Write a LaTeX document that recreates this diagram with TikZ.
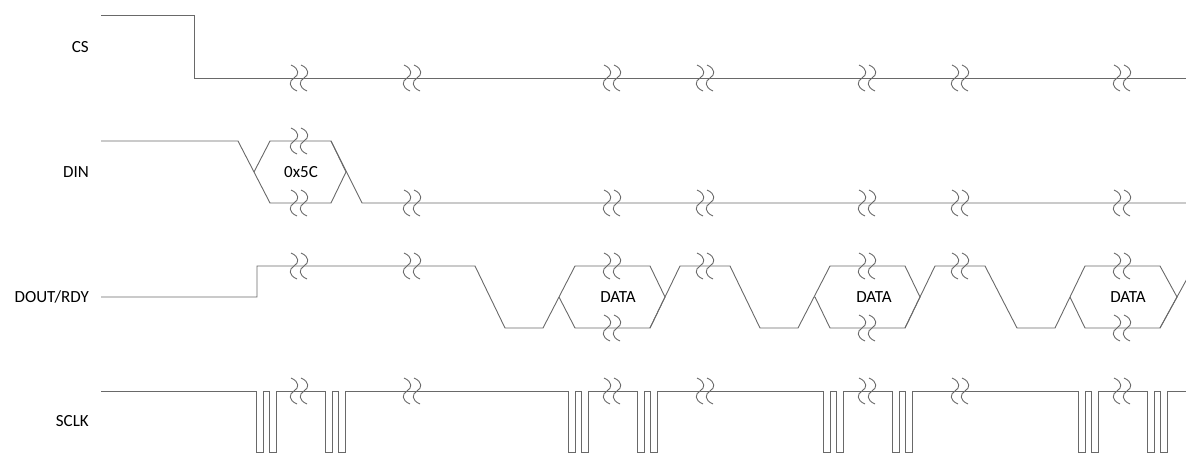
\documentclass[tikz,border=0pt]{standalone}
\usepackage{fontspec}
\setmainfont{Carlito}
\definecolor{wiregray}{RGB}{105,105,105}
\tikzset{
  wire/.style={draw=wiregray, line width=0.9pt},
  siglabel/.style={anchor=east, inner sep=0pt, font=\fontsize{17}{19}\selectfont},
  buslabel/.style={inner sep=0pt, font=\fontsize{17}{19}\selectfont}
}
% two squiggles marking a break in a line
\newcommand{\breakmark}[2]{%
  \foreach \dx in {-5,5} {
    \draw[wire] ({#1+\dx-3},{#2-13}) .. controls ({#1+\dx+6},{#2-9}) and ({#1+\dx+5},{#2-3}) .. ({#1+\dx},{#2})
                .. controls ({#1+\dx-5},{#2+3}) and ({#1+\dx-6},{#2+9}) .. ({#1+\dx+3},{#2+13});
  }}
\begin{document}
\begin{tikzpicture}[x=1pt, y=-1pt]
  \useasboundingbox (0,0) rectangle (1186,454);
  \clip (0,0) rectangle (1186,454);

  \node[siglabel] (cs) at (89,47) {CS};
  \node[siglabel] (din) at (89,172) {DIN};
  \node[siglabel] (dout) at (89,297) {DOUT/RDY};
  \node[siglabel] (sclk) at (89,421) {SCLK};

  % CS
  \draw[wire] (101,15) -- (194,15) -- (194,78) -- (1186,78);

  % DIN
  \draw[wire] (101,141) -- (238,141) -- (270,203) -- (331,203) -- (346,172) -- (331,141) -- (270,141) -- (254,172);
  \draw[wire] (331,141) -- (362,203) -- (1186,203);
  \node[buslabel] (cmd) at (301,172) {0x5C};

  % DOUT/RDY
  \draw[wire] (101,297) -- (257,297) -- (257,266) -- (475,266) -- (505,328) -- (543,328) -- (575,266)
              -- (650,266) -- (665,297) -- (650,328) -- (575,328) -- (559,297);
  \draw[wire] (650,328) -- (680,266) -- (730,266) -- (760,328) -- (798,328) -- (830,266)
              -- (905,266) -- (920,297) -- (905,328) -- (830,328) -- (815,297);
  \draw[wire] (905,328) -- (935,266) -- (985,266) -- (1017,328) -- (1055,328) -- (1085,266)
              -- (1160,266) -- (1177,297) -- (1160,328) -- (1085,328) -- (1070,297);
  \draw[wire] (1160,328) -- (1194,266);
  \node[buslabel] (data1) at (618,297) {DATA};
  \node[buslabel] (data2) at (874,297) {DATA};
  \node[buslabel] (data3) at (1128,297) {DATA};

  % SCLK
  \draw[wire] (101,391) foreach \g in {256,325,568,637,823,892,1078,1147} {
      -- (\g,391) -- (\g,452) -- (\g+7,452) -- (\g+7,391)
      -- (\g+13,391) -- (\g+13,452) -- (\g+20,452) -- (\g+20,391) } -- (1186,391);

  % breaks
  \foreach \bx in {299,412,612,705,867,960,1122} {
    \breakmark{\bx}{78}
    \breakmark{\bx}{203}
    \breakmark{\bx}{266}
    \breakmark{\bx}{391}
  }
  \breakmark{299}{141}
  \foreach \bx in {612,867,1122}
    \breakmark{\bx}{328};
\end{tikzpicture}
\end{document}
